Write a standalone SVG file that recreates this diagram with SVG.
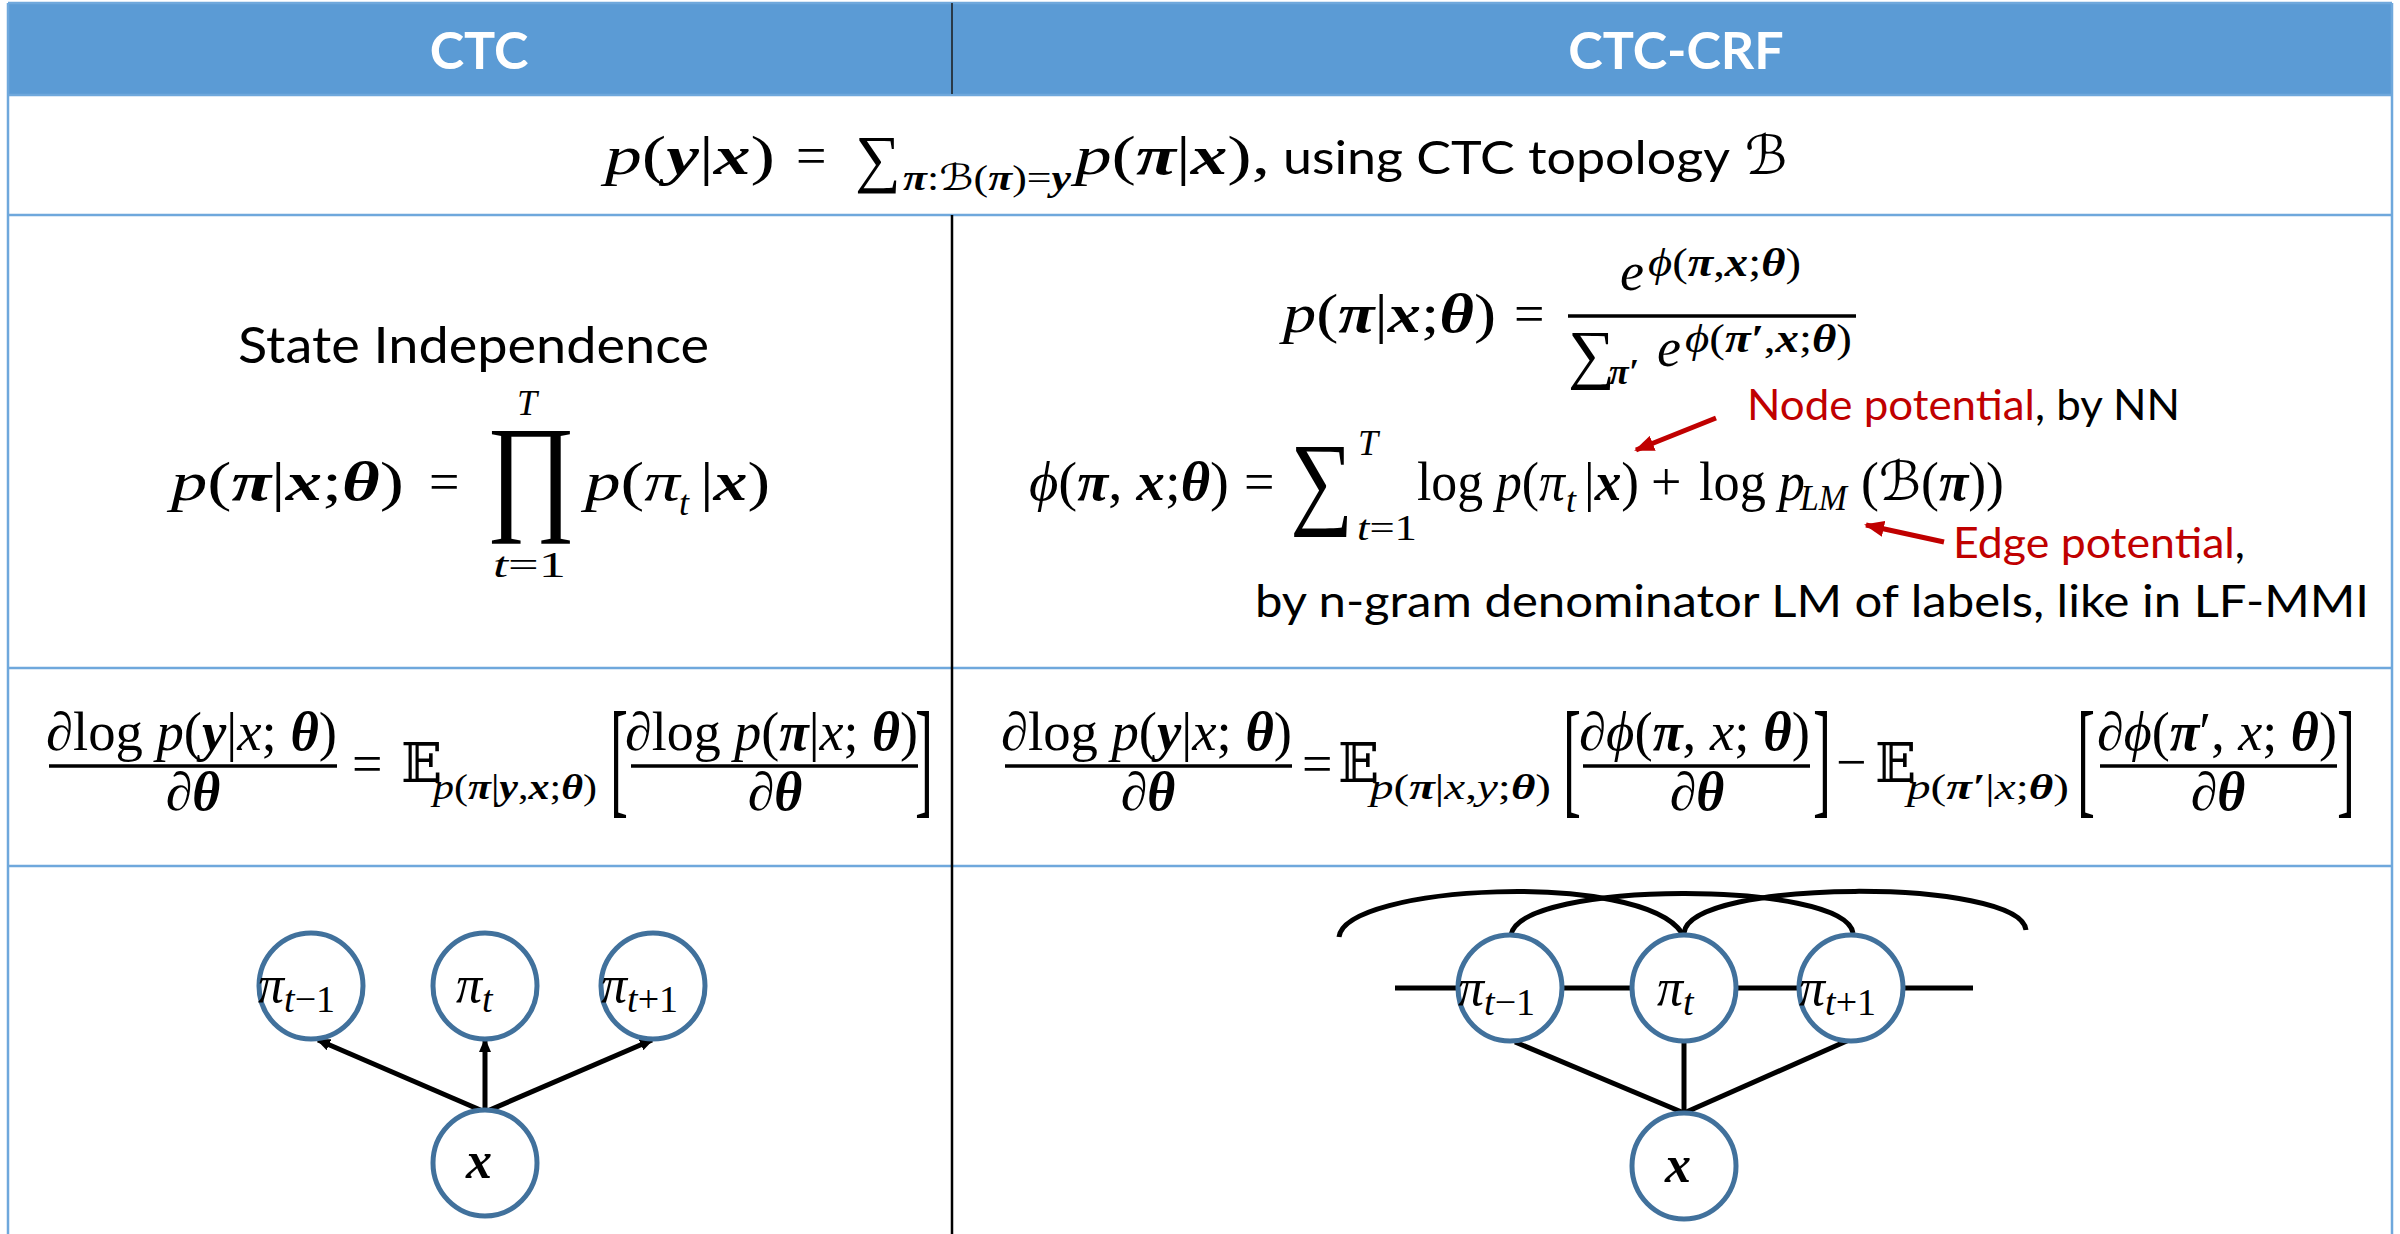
<svg xmlns="http://www.w3.org/2000/svg" width="2400" height="1234" viewBox="0 0 2400 1234">
<style>
.m{font-family:"Liberation Serif","DejaVu Serif",serif;font-size:54px;fill:#000}
.i{font-style:italic}
.b{font-style:italic;font-weight:bold}
.s{font-size:36px}
.c{font-family:Lato,"Liberation Sans",sans-serif;fill:#000}
.h{font-family:Lato,"Liberation Sans",sans-serif;font-weight:bold;fill:#fff;font-size:52px}
.red{fill:#C00000}
.bb{font-family:"DejaVu Serif","DejaVu Sans",serif;font-style:normal}
.sc{font-family:"DejaVu Serif","DejaVu Sans",serif;font-style:italic}
.rule{stroke:#000;stroke-width:3.5}
.node{fill:#fff;stroke:#41719C;stroke-width:5}
.lbl{font-family:"Liberation Serif","DejaVu Serif",serif;font-size:52px;font-style:italic}
.edge{stroke:#000;stroke-width:5;fill:none}
.grid{stroke:#6FA8DC;stroke-width:2.5}
</style>
<defs>
<marker id="ah" markerWidth="14" markerHeight="12" refX="12" refY="6" orient="auto" markerUnits="userSpaceOnUse"><path d="M0,0 L14,6 L0,12 Z" fill="#000"/></marker>
<marker id="rh" markerWidth="20" markerHeight="16" refX="18" refY="8" orient="auto" markerUnits="userSpaceOnUse"><path d="M0,0 L20,8 L0,16 Z" fill="#C00000"/></marker>
</defs>
<rect width="2400" height="1234" fill="#fff"/>
<g id="table">
<rect x="8" y="3" width="2384" height="91" fill="#5B9BD5"/>
<line class="grid" x1="8" y1="3" x2="2392" y2="3"/>
<line class="grid" x1="8" y1="95" x2="2392" y2="95"/>
<line class="grid" x1="8" y1="215" x2="2392" y2="215"/>
<line class="grid" x1="8" y1="668" x2="2392" y2="668"/>
<line class="grid" x1="8" y1="866" x2="2392" y2="866"/>
<line class="grid" x1="8" y1="3" x2="8" y2="1234"/>
<line class="grid" x1="2392" y1="3" x2="2392" y2="1234"/>
<line x1="952" y1="3" x2="952" y2="94" stroke="#1a1a1a" stroke-width="1.5"/>
<line x1="952" y1="215" x2="952" y2="1234" stroke="#000" stroke-width="2.5"/>
<text class="h" x="479" y="69" text-anchor="middle">CTC</text>
<text class="h" x="1676" y="69" text-anchor="middle">CTC-CRF</text>
</g>
<g id="row1">
<text class="m" x="605" y="174" textLength="170" lengthAdjust="spacingAndGlyphs"><tspan class="i">p</tspan>(<tspan class="b">y</tspan>|<tspan class="b">x</tspan>)</text>
<text class="m" x="796" y="174">=</text>
<text class="m" x="855" y="180" style="font-size:64px">∑</text>
<text class="m s" x="903" y="190" textLength="168" lengthAdjust="spacingAndGlyphs"><tspan class="b">π</tspan>:<tspan class="sc">ℬ</tspan>(<tspan class="b">π</tspan>)=<tspan class="b">y</tspan></text>
<text class="m" x="1075" y="174" textLength="195" lengthAdjust="spacingAndGlyphs"><tspan class="i">p</tspan>(<tspan class="b">π</tspan>|<tspan class="b">x</tspan>),</text>
<text class="c" x="1283" y="174" font-size="46" textLength="447" lengthAdjust="spacingAndGlyphs">using CTC topology</text>
<text class="m sc" x="1745" y="174">ℬ</text>
</g>
<g id="row2-ctc">
<text class="c" x="238" y="363" font-size="50" textLength="471" lengthAdjust="spacingAndGlyphs">State Independence</text>
<text class="m" x="171" y="500" textLength="233" lengthAdjust="spacingAndGlyphs"><tspan class="i">p</tspan>(<tspan class="b">π</tspan>|<tspan class="b">x</tspan>;<tspan class="b">θ</tspan>)</text>
<text class="m" x="429" y="500">=</text>
<text class="m" transform="translate(486,516) scale(0.84,1)" style="font-size:130px">∏</text>
<text class="m i s" x="527" y="415" text-anchor="middle">T</text>
<text class="m s" x="493" y="577" textLength="73" lengthAdjust="spacingAndGlyphs"><tspan class="i">t</tspan>=1</text>
<text class="m" x="585" y="500" textLength="95" lengthAdjust="spacingAndGlyphs"><tspan class="i">p</tspan>(<tspan class="i">π</tspan></text>
<text class="m i s" x="679" y="515">t</text>
<text class="m" x="700" y="500" textLength="70" lengthAdjust="spacingAndGlyphs">|<tspan class="b">x</tspan>)</text>
</g>
<g id="row2-crf">
<text class="m" x="1283" y="332" textLength="213" lengthAdjust="spacingAndGlyphs"><tspan class="i">p</tspan>(<tspan class="b">π</tspan>|<tspan class="b">x</tspan>;<tspan class="b">θ</tspan>)</text>
<text class="m" x="1514" y="332">=</text>
<line class="rule" x1="1568" y1="316" x2="1856" y2="316"/>
<text class="m i" x="1620" y="290">e</text>
<text class="m" x="1648" y="276" style="font-size:40px" textLength="153" lengthAdjust="spacingAndGlyphs"><tspan class="i">ϕ</tspan>(<tspan class="b">π</tspan>,<tspan class="b">x</tspan>;<tspan class="b">θ</tspan>)</text>
<text class="m" x="1568" y="376" style="font-size:66px">∑</text>
<text class="m b s" x="1609" y="384">π′</text>
<text class="m i" x="1657" y="366">e</text>
<text class="m" x="1685" y="352" style="font-size:40px" textLength="167" lengthAdjust="spacingAndGlyphs"><tspan class="i">ϕ</tspan>(<tspan class="b">π′</tspan>,<tspan class="b">x</tspan>;<tspan class="b">θ</tspan>)</text>
<text class="c" x="1747" y="420" font-size="42" textLength="433" lengthAdjust="spacingAndGlyphs"><tspan class="red">Node potential</tspan>, by NN</text>
<text class="m" x="1029" y="500" textLength="200" lengthAdjust="spacingAndGlyphs"><tspan class="i">ϕ</tspan>(<tspan class="b">π</tspan>, <tspan class="b">x</tspan>;<tspan class="b">θ</tspan>)</text>
<text class="m" x="1244" y="500">=</text>
<text class="m" transform="translate(1290,515) scale(0.85,1)" style="font-size:104px">∑</text>
<text class="m i s" x="1358" y="455">T</text>
<text class="m s" x="1357" y="540" textLength="60" lengthAdjust="spacingAndGlyphs"><tspan class="i">t</tspan>=1</text>
<text class="m" x="1417" y="500" textLength="148" lengthAdjust="spacingAndGlyphs">log <tspan class="i">p</tspan>(<tspan class="i">π</tspan></text>
<text class="m i s" x="1566" y="512">t</text>
<text class="m" x="1584" y="500" textLength="55" lengthAdjust="spacingAndGlyphs">|<tspan class="b">x</tspan>)</text>
<text class="m" x="1651" y="500">+</text>
<text class="m" x="1699" y="500" textLength="106" lengthAdjust="spacingAndGlyphs">log <tspan class="i">p</tspan></text>
<text class="m i s" x="1800" y="510" textLength="47" lengthAdjust="spacingAndGlyphs">LM</text>
<text class="m" x="1861" y="500" textLength="143" lengthAdjust="spacingAndGlyphs">(<tspan class="sc">ℬ</tspan>(<tspan class="b">π</tspan>))</text>
<text class="c" x="1953" y="558" font-size="42" textLength="292" lengthAdjust="spacingAndGlyphs"><tspan class="red">Edge potential</tspan>,</text>
<text class="c" x="1255" y="617" font-size="44" textLength="1114" lengthAdjust="spacingAndGlyphs">by n-gram denominator LM of labels, like in LF-MMI</text>
<g id="red-arrows">
<line x1="1716" y1="418" x2="1636" y2="450" stroke="#C00000" stroke-width="5" marker-end="url(#rh)"/>
<line x1="1944" y1="542" x2="1866" y2="525" stroke="#C00000" stroke-width="5" marker-end="url(#rh)"/>
</g>
</g>
<g id="row3-ctc">
<text class="m" x="46" y="750" textLength="291" lengthAdjust="spacingAndGlyphs">∂log <tspan class="i">p</tspan>(<tspan class="b">y</tspan>|<tspan class="i">x</tspan>; <tspan class="b">θ</tspan>)</text>
<line class="rule" x1="49" y1="766" x2="337" y2="766"/>
<text class="m" x="193" y="810" text-anchor="middle">∂<tspan class="b">θ</tspan></text>
<text class="m" x="352" y="782">=</text>
<text class="m bb" x="401" y="782">𝔼</text>
<text class="m s" x="433" y="799" textLength="164" lengthAdjust="spacingAndGlyphs"><tspan class="i">p</tspan>(<tspan class="b">π</tspan>|<tspan class="b">y</tspan>,<tspan class="b">x</tspan>;<tspan class="b">θ</tspan>)</text>
<text class="m" transform="translate(610,801) scale(1,2.4)">[</text>
<text class="m" x="625" y="750" textLength="293" lengthAdjust="spacingAndGlyphs">∂log <tspan class="i">p</tspan>(<tspan class="b">π</tspan>|<tspan class="i">x</tspan>; <tspan class="b">θ</tspan>)</text>
<line class="rule" x1="631" y1="766" x2="918" y2="766"/>
<text class="m" x="775" y="810" text-anchor="middle">∂<tspan class="b">θ</tspan></text>
<text class="m" transform="translate(915,801) scale(1,2.4)">]</text>
</g>
<g id="row3-crf">
<text class="m" x="1001" y="750" textLength="291" lengthAdjust="spacingAndGlyphs">∂log <tspan class="i">p</tspan>(<tspan class="b">y</tspan>|<tspan class="i">x</tspan>; <tspan class="b">θ</tspan>)</text>
<line class="rule" x1="1005" y1="766" x2="1292" y2="766"/>
<text class="m" x="1148" y="810" text-anchor="middle">∂<tspan class="b">θ</tspan></text>
<text class="m" x="1302" y="782">=</text>
<text class="m bb" x="1338" y="782">𝔼</text>
<text class="m s" x="1370" y="799" textLength="181" lengthAdjust="spacingAndGlyphs"><tspan class="i">p</tspan>(<tspan class="b">π</tspan>|<tspan class="i">x</tspan>,<tspan class="i">y</tspan>;<tspan class="b">θ</tspan>)</text>
<text class="m" transform="translate(1563,801) scale(1,2.4)">[</text>
<text class="m" x="1579" y="750" textLength="231" lengthAdjust="spacingAndGlyphs">∂<tspan class="i">ϕ</tspan>(<tspan class="b">π</tspan>, <tspan class="i">x</tspan>; <tspan class="b">θ</tspan>)</text>
<line class="rule" x1="1583" y1="766" x2="1810" y2="766"/>
<text class="m" x="1697" y="810" text-anchor="middle">∂<tspan class="b">θ</tspan></text>
<text class="m" transform="translate(1813,801) scale(1,2.4)">]</text>
<text class="m" x="1836" y="780">−</text>
<text class="m bb" x="1875" y="782">𝔼</text>
<text class="m s" x="1907" y="799" textLength="162" lengthAdjust="spacingAndGlyphs"><tspan class="i">p</tspan>(<tspan class="b">π′</tspan>|<tspan class="i">x</tspan>;<tspan class="b">θ</tspan>)</text>
<text class="m" transform="translate(2077,801) scale(1,2.4)">[</text>
<text class="m" x="2097" y="750" textLength="240" lengthAdjust="spacingAndGlyphs">∂<tspan class="i">ϕ</tspan>(<tspan class="b">π</tspan>′, <tspan class="i">x</tspan>; <tspan class="b">θ</tspan>)</text>
<line class="rule" x1="2100" y1="766" x2="2337" y2="766"/>
<text class="m" x="2218" y="810" text-anchor="middle">∂<tspan class="b">θ</tspan></text>
<text class="m" transform="translate(2337,801) scale(1,2.4)">]</text>
</g>
<g id="ctc-connectors">
<line class="edge" x1="485" y1="1112" x2="318" y2="1040" marker-end="url(#ah)"/>
<line class="edge" x1="485" y1="1112" x2="485" y2="1040" marker-end="url(#ah)"/>
<line class="edge" x1="485" y1="1112" x2="652" y2="1040" marker-end="url(#ah)"/>
</g>
<g id="ctc-node-pi-tm1"><ellipse class="node" cx="311" cy="986" rx="52" ry="53"/><text class="lbl" x="258" y="1002">π<tspan font-size="38" dy="10">t</tspan><tspan font-size="38" font-style="normal">−1</tspan></text></g>
<g id="ctc-node-pi-t"><ellipse class="node" cx="485" cy="986" rx="52" ry="53"/><text class="lbl" x="456" y="1002">π<tspan font-size="38" dy="10">t</tspan></text></g>
<g id="ctc-node-pi-tp1"><ellipse class="node" cx="653" cy="986" rx="52" ry="53"/><text class="lbl" x="601" y="1002">π<tspan font-size="38" dy="10">t</tspan><tspan font-size="38" font-style="normal">+1</tspan></text></g>
<g id="ctc-node-x"><ellipse class="node" cx="485" cy="1163" rx="52" ry="53"/><text class="lbl" x="479" y="1178" font-weight="bold" text-anchor="middle">x</text></g>
<g id="crf-connectors">
<path class="edge" d="M1339,937 C1345,885 1640,870 1682,933"/>
<path class="edge" d="M1511,935 C1520,880 1845,880 1853,933"/>
<path class="edge" d="M1684,933 C1690,878 2020,878 2026,930"/>
<line class="edge" x1="1395" y1="988" x2="1458" y2="988"/>
<line class="edge" x1="1562" y1="988" x2="1632" y2="988"/>
<line class="edge" x1="1736" y1="988" x2="1798" y2="988"/>
<line class="edge" x1="1904" y1="988" x2="1973" y2="988"/>
<line class="edge" x1="1684" y1="1113" x2="1515" y2="1042"/>
<line class="edge" x1="1684" y1="1113" x2="1684" y2="1042"/>
<line class="edge" x1="1684" y1="1113" x2="1849" y2="1040"/>
</g>
<g id="crf-node-pi-tm1"><ellipse class="node" cx="1510" cy="988" rx="52" ry="53"/><text class="lbl" x="1458" y="1005">π<tspan font-size="38" dy="10">t</tspan><tspan font-size="38" font-style="normal">−1</tspan></text></g>
<g id="crf-node-pi-t"><ellipse class="node" cx="1684" cy="988" rx="52" ry="53"/><text class="lbl" x="1657" y="1005">π<tspan font-size="38" dy="10">t</tspan></text></g>
<g id="crf-node-pi-tp1"><ellipse class="node" cx="1851" cy="988" rx="52" ry="53"/><text class="lbl" x="1799" y="1005">π<tspan font-size="38" dy="10">t</tspan><tspan font-size="38" font-style="normal">+1</tspan></text></g>
<g id="crf-node-x"><ellipse class="node" cx="1684" cy="1166" rx="52" ry="53"/><text class="lbl" x="1678" y="1182" font-weight="bold" text-anchor="middle">x</text></g>
</svg>
